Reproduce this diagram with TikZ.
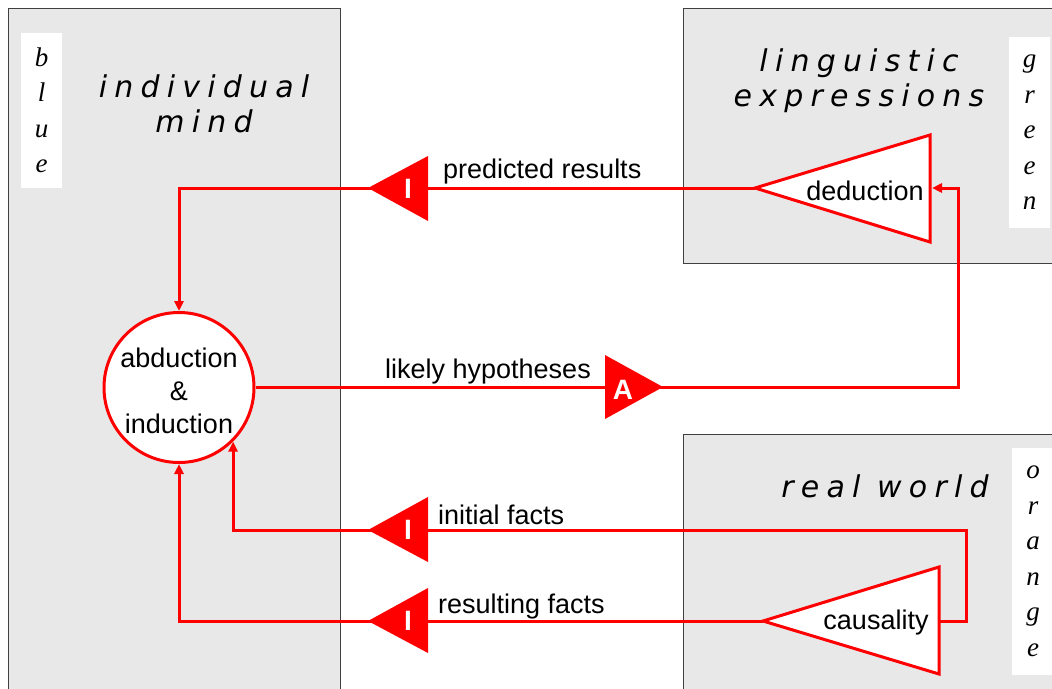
\documentclass[tikz,border=0pt]{standalone}
\usepackage{fontspec}
\setsansfont{Liberation Sans}
\newfontfamily\titlefont[LetterSpace=24]{DejaVu Sans}
\newfontfamily\tagfont{Liberation Serif}
\usetikzlibrary{arrows.meta}
\definecolor{panelgray}{RGB}{232,232,232}
\definecolor{flowred}{RGB}{255,0,0}

\begin{document}
\begin{tikzpicture}[x=1pt,y=-1pt,
    every node/.style={font=\sffamily\fontsize{27}{33}\selectfont, inner sep=0pt},
    panel/.style={fill=panelgray, draw=black!75, line width=0.8pt},
    tagbox/.style={fill=white, minimum width=41pt, align=center,
        font=\tagfont\itshape\fontsize{27}{35.5}\selectfont},
    titletext/.style={align=center, font=\titlefont\itshape\fontsize{30}{35}\selectfont},
    flow/.style={draw=flowred, line width=3pt},
    arr/.style={-{Triangle[length=10pt,width=9pt]}},
    bigtri/.style={draw=flowred, fill=white, line width=3pt},
    markertri/.style={fill=flowred},
    markerletter/.style={text=white, font=\sffamily\bfseries\fontsize{28}{28}\selectfont},
    lbl/.style={anchor=base west}]
    \useasboundingbox (0,0) rectangle (1052,688);
    \clip (0,0) rectangle (1052,688);

    % the three worlds
    \draw[panel] (8,8) rectangle (340,700);
    \draw[panel] (683,8) rectangle (1060,263);
    \draw[panel] (683,434) rectangle (1060,700);

    \node[tagbox, minimum height=155pt] (bluetag) at (41.5,110.5) {b\\l\\u\\e};
    \node[tagbox, minimum height=191pt] (greentag) at (1029.5,132.5) {g\\r\\e\\e\\n};
    \node[tagbox, minimum height=227pt, minimum width=42pt] (orangetag) at (1033,561.5) {o\\r\\a\\n\\g\\e};

    \node[titletext] (mindtitle) at (204,104) {individual\\mind};
    \node[titletext] (langtitle) at (859,81) {linguistic\\expressions};
    \node[titletext, anchor=base] (worldtitle) at (885,497) {real world};

    % reasoning steps
    \node[circle, draw=flowred, fill=white, line width=3pt, minimum size=150pt]
        (abd) at (179,387.5) {};
    \node[align=center] (abdtext) at ([yshift=-3pt]abd.center) {abduction\\\&\\induction};

    \coordinate (dedtip) at (755,188);
    \coordinate (dedback) at (932,188);
    \draw[bigtri] (dedtip) -- (930,135) -- (930,242) -- cycle;
    \node (ded) at (865,191) {deduction};

    \coordinate (caustip) at (763,621);
    \coordinate (causback) at (939,621);
    \draw[bigtri] (caustip) -- (939,567) -- (939,674) -- cycle;
    \node (caus) at (876,623) {causality};

    \coordinate (hypturn) at (958,188);
    \coordinate (factturn) at (966,530);

    % flows
    \draw[flow, arr] (dedtip) -| (abd.north);
    \draw[flow, arr] (abd.east) -| (hypturn) -- (dedback);
    \draw[flow, arr] (causback) -| (factturn) -| (abd.-45);
    \draw[flow, arr] (caustip) -| (abd.south);

    \fill[markertri] (368,188) -- (428,156) -- (428,221) -- cycle;
    \node[markerletter] (predI) at (408,189) {I};
    \fill[markertri] (663,387) -- (605,355) -- (605,419) -- cycle;
    \node[markerletter] (hypA) at (623,390) {A};
    \fill[markertri] (368,530) -- (428,497) -- (428,562) -- cycle;
    \node[markerletter] (initI) at (408,530) {I};
    \fill[markertri] (368,621) -- (428,588) -- (428,653) -- cycle;
    \node[markerletter] (resI) at (408,621) {I};

    \node[lbl] (predlbl) at (443,178) {predicted results};
    \node[lbl] (hyplbl) at (385,378) {likely hypotheses};
    \node[lbl] (initlbl) at (438,524) {initial facts};
    \node[lbl] (reslbl) at (438,613) {resulting facts};
\end{tikzpicture}
\end{document}
